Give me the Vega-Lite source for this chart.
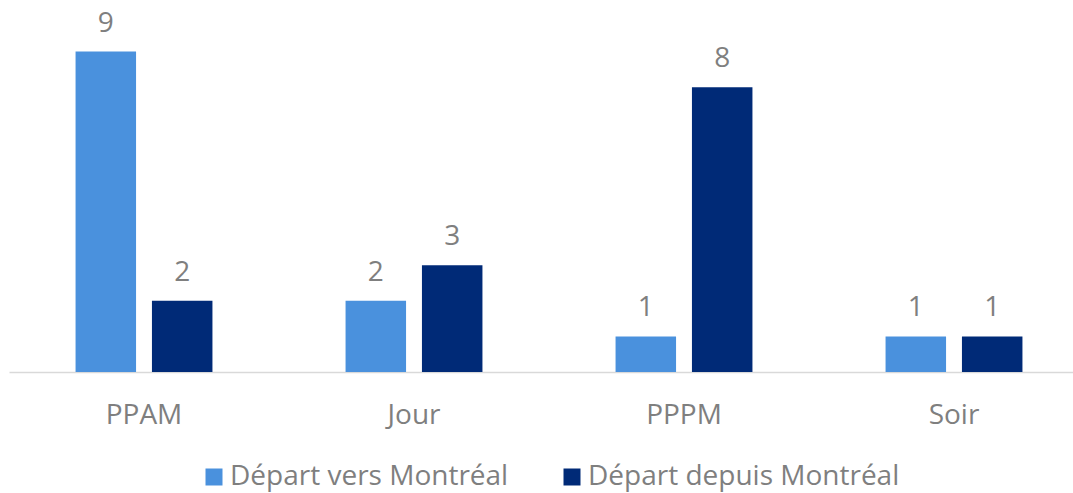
{
  "$schema": "https://vega.github.io/schema/vega-lite/v6.json",
  "width": 1080,
  "height": 356,
  "autosize": {"type": "none"},
  "padding": {"left": 9, "top": 16, "right": 0, "bottom": 121},
  "background": "white",
  "config": {
    "view": {"stroke": null},
    "font": "Open Sans"
  },
  "data": {
    "values": [
      {"periode": "PPAM", "serie": "Départ vers Montréal", "valeur": 9},
      {"periode": "PPAM", "serie": "Départ depuis Montréal", "valeur": 2},
      {"periode": "Jour", "serie": "Départ vers Montréal", "valeur": 2},
      {"periode": "Jour", "serie": "Départ depuis Montréal", "valeur": 3},
      {"periode": "PPPM", "serie": "Départ vers Montréal", "valeur": 1},
      {"periode": "PPPM", "serie": "Départ depuis Montréal", "valeur": 8},
      {"periode": "Soir", "serie": "Départ vers Montréal", "valeur": 1},
      {"periode": "Soir", "serie": "Départ depuis Montréal", "valeur": 1}
    ]
  },
  "encoding": {
    "x": {
      "field": "periode",
      "type": "nominal",
      "sort": ["PPAM", "Jour", "PPPM", "Soir"],
      "scale": {"paddingInner": 0.493, "paddingOuter": 0.2465},
      "axis": {
        "title": null,
        "labelAngle": 0,
        "ticks": false,
        "domainColor": "#D9D9D9",
        "domainWidth": 1.5,
        "labelFontSize": 28,
        "labelColor": "#7F7F7F",
        "labelBaseline": "alphabetic",
        "labelPadding": 51
      }
    },
    "xOffset": {
      "field": "serie",
      "type": "nominal",
      "sort": ["Départ vers Montréal", "Départ depuis Montréal"],
      "scale": {"paddingInner": 0.208, "paddingOuter": 0}
    },
    "y": {
      "field": "valeur",
      "type": "quantitative",
      "scale": {"domain": [0, 10]},
      "axis": null
    }
  },
  "layer": [
    {
      "mark": {"type": "bar"},
      "encoding": {
        "color": {
          "field": "serie",
          "type": "nominal",
          "sort": ["Départ vers Montréal", "Départ depuis Montréal"],
          "scale": {"domain": ["Départ vers Montréal", "Départ depuis Montréal"], "range": ["#4A91DD", "#002A77"]},
          "legend": {
            "title": null,
            "orient": "none",
            "direction": "horizontal",
            "legendX": 191,
            "legendY": 447,
            "symbolType": "square",
            "symbolSize": 289,
            "symbolStrokeWidth": 0,
            "labelFontSize": 28,
            "labelColor": "#7F7F7F",
            "labelOffset": 2,
            "columnPadding": 49,
            "labelLimit": 500
          }
        }
      }
    },
    {
      "mark": {"type": "text", "baseline": "alphabetic", "dy": -20, "fontSize": 28, "color": "#7F7F7F"},
      "encoding": {
        "text": {"field": "valeur", "type": "quantitative"}
      }
    }
  ]
}
